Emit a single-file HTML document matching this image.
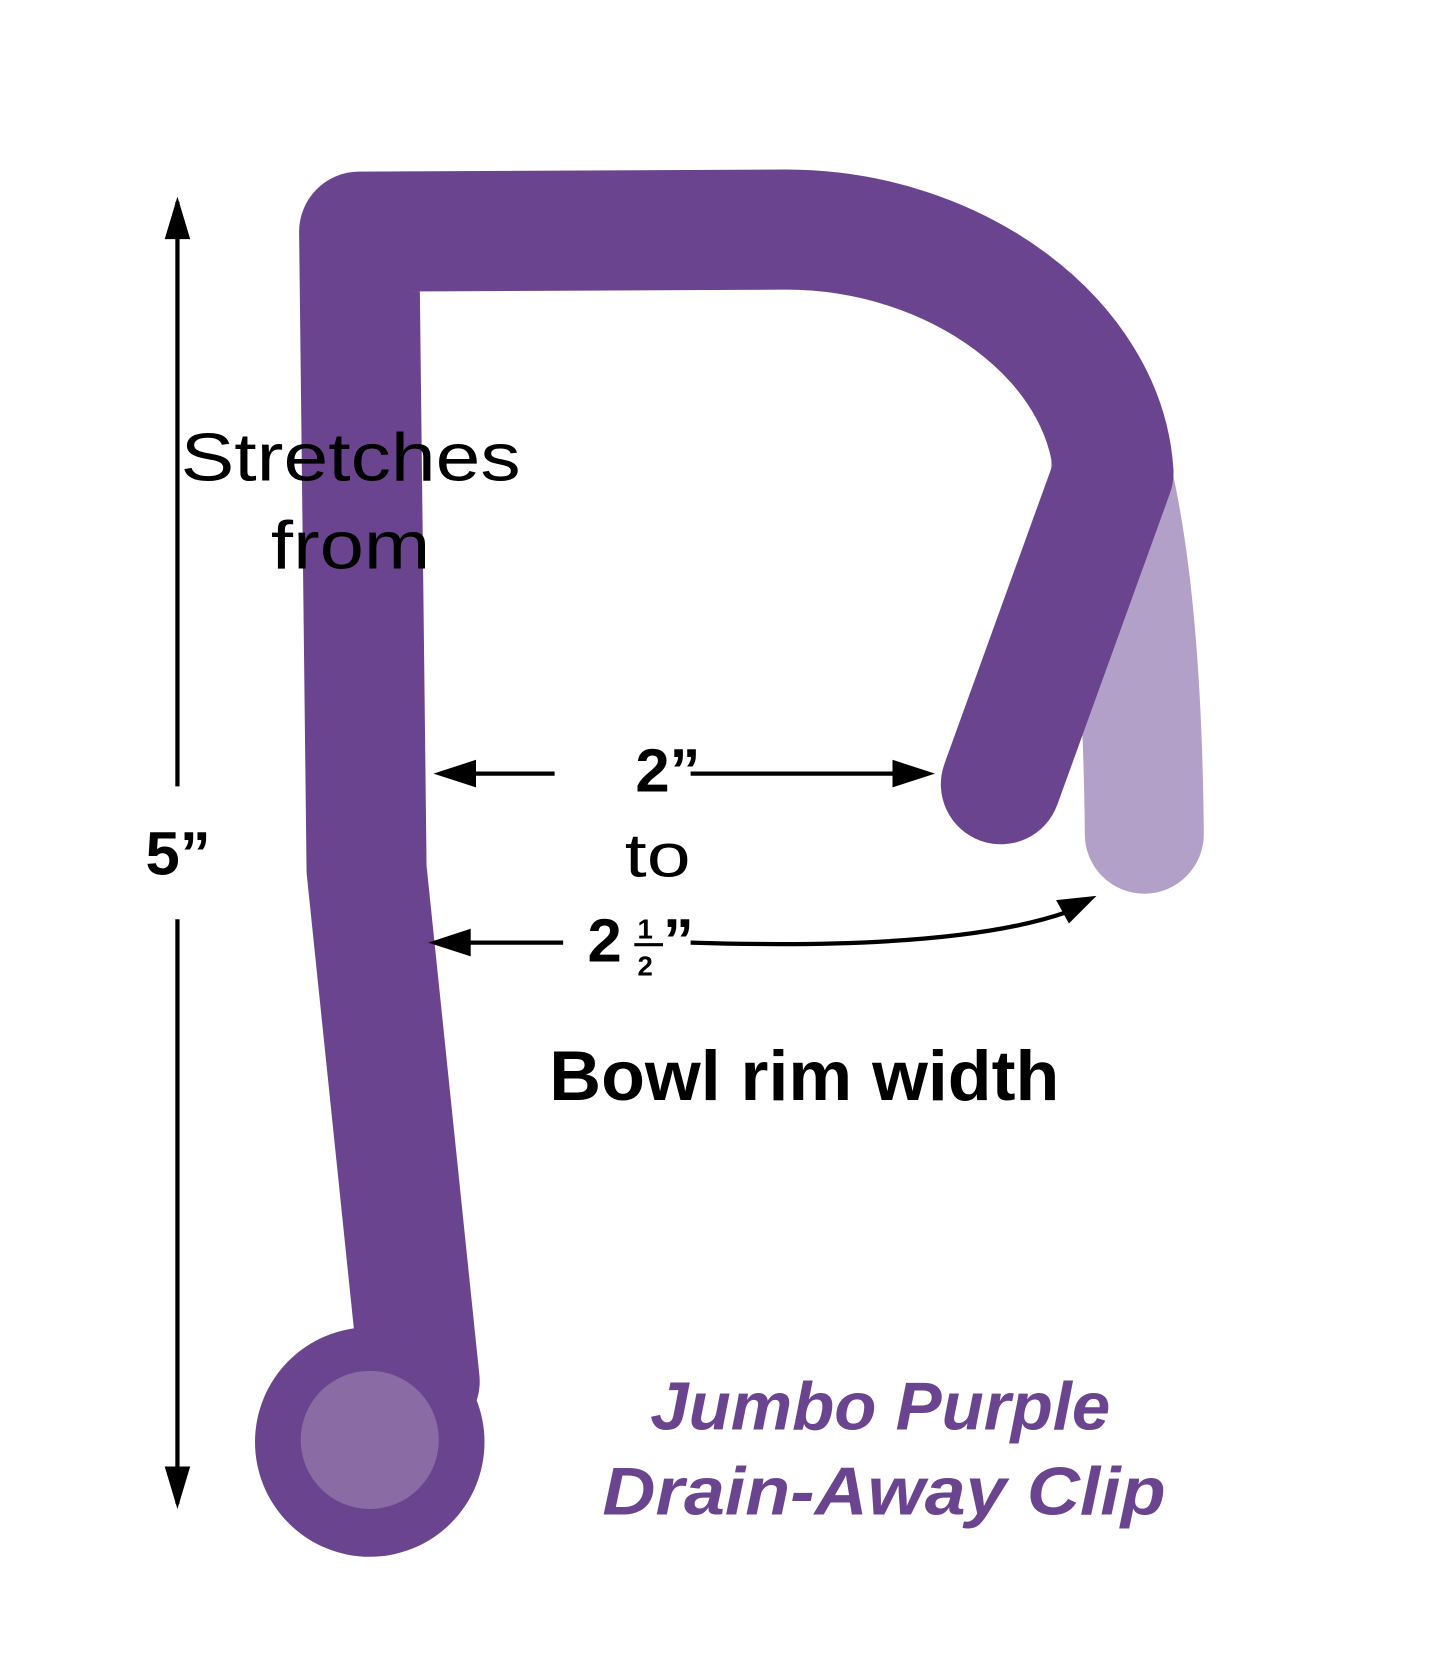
<!DOCTYPE html>
<html><head><style>html,body{margin:0;padding:0;background:#fff}svg{display:block}</style></head>
<body>
<svg width="1445" height="1662" viewBox="0 0 1360 1564" preserveAspectRatio="none" xmlns="http://www.w3.org/2000/svg">
<rect width="1360" height="1564" fill="#fff"/>
<path d="M1045,440 Q1075,560 1077,785" fill="none" stroke="#B3A0C8" stroke-width="112" stroke-linecap="round"/>
<path d="M395,1300 L345,818 L338,218 L740,216 C900,216 1040,320 1048,445 L942,738" fill="none" stroke="#6B4490" stroke-width="113" stroke-linecap="round" stroke-linejoin="round"/>
<circle cx="348" cy="1357" r="108" fill="#6B4490"/>
<circle cx="348" cy="1355" r="65" fill="#8A6BA3"/>
<g stroke="#000" stroke-width="4" fill="none">
<line x1="167" y1="740" x2="167" y2="190"/>
<line x1="167" y1="865" x2="167" y2="1415"/>
<path d="M167,185 l-12,40 l24,0z" fill="#000" stroke="none"/>
<path d="M167,1420 l-12,-40 l24,0z" fill="#000" stroke="none"/>
<line x1="522" y1="728" x2="440" y2="728"/>
<path d="M408,728 l40,-13 l0,26z" fill="#000" stroke="none"/>
<line x1="650" y1="728" x2="845" y2="728"/>
<path d="M880,728 l-40,-13 l0,26z" fill="#000" stroke="none"/>
<line x1="530" y1="887" x2="435" y2="887"/>
<path d="M403,887 l40,-13 l0,26z" fill="#000" stroke="none"/>
<path d="M650,887 Q900,895 1005,858"/>
<path d="M1032,843 l-38,4 l12,22z" fill="#000" stroke="none"/>
</g>
<g font-family="'Liberation Sans',sans-serif" fill="#000">
<text x="170" y="452" font-size="64" textLength="320" lengthAdjust="spacingAndGlyphs">Stretches</text>
<text x="255" y="535" font-size="64" textLength="150" lengthAdjust="spacingAndGlyphs">from</text>
<text x="137" y="823" font-size="58" font-weight="bold">5”</text>
<text x="598" y="745" font-size="58" font-weight="bold">2”</text>
<text x="588" y="825" font-size="58" textLength="62" lengthAdjust="spacingAndGlyphs">to</text>
<text x="553" y="905" font-size="58" font-weight="bold">2</text>
<text x="600" y="883" font-size="26" font-weight="bold">1</text>
<line x1="597" y1="889" x2="624" y2="889" stroke="#000" stroke-width="3"/>
<text x="600" y="918" font-size="26" font-weight="bold">2</text>
<text x="624" y="905" font-size="58" font-weight="bold">”</text>
<text x="517" y="1035" font-size="66" font-weight="bold" textLength="480" lengthAdjust="spacingAndGlyphs">Bowl rim width</text>
</g>
<g font-family="'Liberation Sans',sans-serif" fill="#6B4490" font-style="italic" font-weight="bold">
<text x="612" y="1345" font-size="64" textLength="433" lengthAdjust="spacingAndGlyphs">Jumbo Purple</text>
<text x="567" y="1425" font-size="64" textLength="530" lengthAdjust="spacingAndGlyphs">Drain-Away Clip</text>
</g>
</svg>
</body></html>
